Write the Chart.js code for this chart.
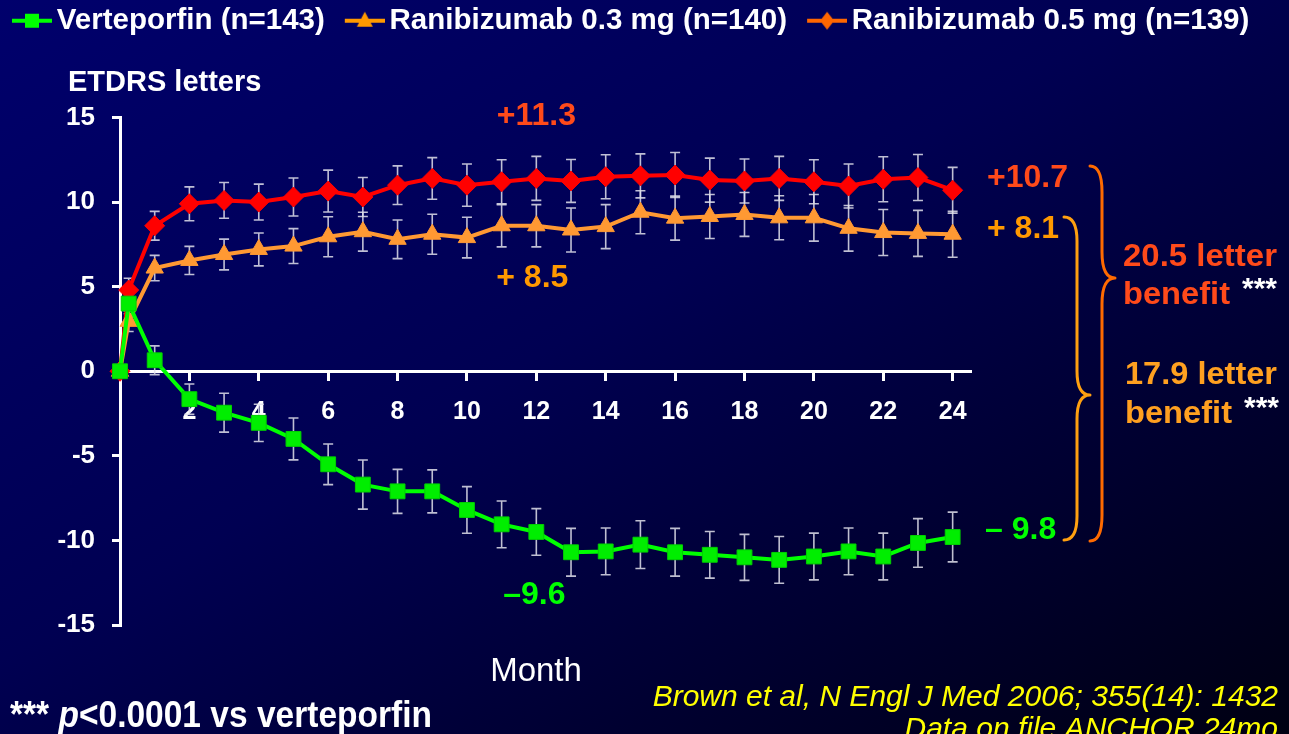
<!DOCTYPE html>
<html><head><meta charset="utf-8">
<script src="https://cdn.jsdelivr.net/npm/chart.js@4.4.1/dist/chart.umd.min.js"></script>
<style>
html,body{margin:0;padding:0;width:1289px;height:734px;overflow:hidden;
background:linear-gradient(to bottom right,#00006c 0%,#000052 45%,#000012 100%);}
canvas{display:block}
</style></head><body>
<canvas id="c" width="1289" height="734"></canvas>
<script>
// ---------- data ----------
const months = [0,0.25,1,2,3,4,5,6,7,8,9,10,11,12,13,14,15,16,17,18,19,20,21,22,23,24];
const verteporfin    = [0,4.0,0.65,-1.65,-2.45,-3.05,-4.0,-5.5,-6.7,-7.1,-7.1,-8.2,-9.05,-9.5,-10.7,-10.65,-10.25,-10.7,-10.85,-11.0,-11.15,-10.95,-10.65,-10.95,-10.15,-9.8];
const verteporfinErr = [0,0.6,0.85,0.9,1.15,1.1,1.24,1.2,1.45,1.3,1.27,1.38,1.38,1.38,1.41,1.38,1.41,1.41,1.38,1.36,1.38,1.38,1.38,1.38,1.44,1.47];
const rani03    = [0,2.95,6.1,6.55,6.9,7.2,7.4,7.95,8.25,7.8,8.1,7.9,8.6,8.6,8.35,8.55,9.4,9.05,9.15,9.27,9.07,9.07,8.45,8.2,8.15,8.1];
const rani03Err = [0,0.6,0.75,0.83,0.91,0.97,1.03,1.18,1.15,1.14,1.18,1.2,1.25,1.25,1.3,1.3,1.27,1.3,1.3,1.3,1.3,1.38,1.35,1.36,1.36,1.36];
const rani05    = [0,4.8,8.6,9.9,10.1,10.0,10.3,10.65,10.3,11.0,11.4,11.0,11.2,11.4,11.25,11.5,11.55,11.6,11.3,11.25,11.4,11.2,10.95,11.35,11.45,10.7];
const rani05Err = [0,0.7,0.85,1.0,1.06,1.06,1.12,1.24,1.15,1.14,1.23,1.25,1.3,1.3,1.27,1.3,1.3,1.33,1.3,1.3,1.3,1.3,1.3,1.33,1.36,1.35];
const seriesNames = ['Verteporfin (n=143)','Ranibizumab 0.3 mg (n=140)','Ranibizumab 0.5 mg (n=139)'];
const xTicks = [2,4,6,8,10,12,14,16,18,20,22,24];
const yTicks = [-15,-10,-5,0,5,10,15];

// ---------- styling ----------
const F = '"Liberation Sans", Arial, Helvetica, sans-serif';
Chart.defaults.font.family = F;
const GREEN = '#00ff00', ORANGE = '#ff9933', RED = '#ff0000', REDLEG = '#ff6600';
const ORTXT = '#ff9900', REDTXT = '#ff4a1a';

function makeIcon(kind, color) {
  const c = document.createElement('canvas');
  c.width = 64; c.height = 28;
  const g = c.getContext('2d');
  g.strokeStyle = color; g.fillStyle = color; g.lineWidth = 4;
  g.beginPath(); g.moveTo(24, 14); g.lineTo(64, 14); g.stroke();
  const cx = 44, cy = 14;
  g.beginPath();
  if (kind === 'rect') { g.rect(cx - 7, cy - 7, 14, 14); }
  else if (kind === 'tri') { g.moveTo(cx, cy - 9); g.lineTo(cx + 8, cy + 6); g.lineTo(cx - 8, cy + 6); g.closePath(); }
  else { g.moveTo(cx, cy - 9); g.lineTo(cx + 7, cy); g.lineTo(cx, cy + 9); g.lineTo(cx - 7, cy); g.closePath(); }
  g.fill();
  return c;
}
const icons = [makeIcon('rect', GREEN), makeIcon('tri', ORTXT), makeIcon('dia', REDLEG)];
const legendColors = [GREEN, ORTXT, REDLEG];

const toXY = arr => months.map((m, i) => ({x: m, y: arr[i]}));

// ---------- plugins ----------
const errorBars = {
  id: 'errorBars',
  beforeDatasetsDraw(chart) {
    const {ctx, scales: {x, y}} = chart;
    ctx.save();
    ctx.strokeStyle = 'rgba(225,225,235,0.85)';
    ctx.lineWidth = 1.6;
    chart.data.datasets.forEach(ds => {
      ds.errors.forEach((e, j) => {
        if (!e) return;
        const v = ds.data[j].y;
        const px = x.getPixelForValue(ds.data[j].x);
        const t = y.getPixelForValue(v + e), b = y.getPixelForValue(v - e);
        ctx.beginPath();
        ctx.moveTo(px, t); ctx.lineTo(px, b);
        ctx.moveTo(px - 5, t); ctx.lineTo(px + 5, t);
        ctx.moveTo(px - 5, b); ctx.lineTo(px + 5, b);
        ctx.stroke();
      });
    });
    ctx.restore();
  }
};

function txt(ctx, s, px, py, font, color, align, base, targetW) {
  ctx.save();
  ctx.font = font; ctx.fillStyle = color;
  ctx.textAlign = align || 'left'; ctx.textBaseline = base || 'middle';
  if (targetW) {
    const k = targetW / ctx.measureText(s).width;
    ctx.translate(px, py); ctx.scale(k, 1); ctx.fillText(s, 0, 0);
  } else ctx.fillText(s, px, py);
  ctx.restore();
}
function segs(ctx, parts, px, py, targetW) {
  ctx.save();
  ctx.textAlign = 'left'; ctx.textBaseline = 'alphabetic';
  let total = 0;
  parts.forEach(p => { ctx.font = p.font; total += ctx.measureText(p.t).width; });
  const k = targetW ? targetW / total : 1;
  ctx.translate(px, py); ctx.scale(k, 1);
  let cx = 0;
  parts.forEach(p => { ctx.font = p.font; ctx.fillStyle = p.c; ctx.fillText(p.t, cx, 0); cx += ctx.measureText(p.t).width; });
  ctx.restore();
}
function brace(ctx, xEnd, xSpine, xTip, yTop, yMid, yBot, r, color) {
  ctx.save();
  ctx.strokeStyle = color; ctx.lineWidth = 3; ctx.lineCap = 'round'; ctx.lineJoin = 'round';
  ctx.beginPath();
  ctx.moveTo(xEnd, yTop);
  ctx.quadraticCurveTo(xSpine, yTop, xSpine, yTop + r);
  ctx.lineTo(xSpine, yMid - r);
  ctx.quadraticCurveTo(xSpine, yMid, xTip, yMid);
  ctx.quadraticCurveTo(xSpine, yMid, xSpine, yMid + r);
  ctx.lineTo(xSpine, yBot - r);
  ctx.quadraticCurveTo(xSpine, yBot, xEnd, yBot);
  ctx.stroke();
  ctx.restore();
}

const annotations = {
  id: 'annotations',
  afterDraw(chart) {
    const {ctx, scales: {x, y}} = chart;
    const B = s => 'bold ' + s + 'px ' + F;
    txt(ctx, 'ETDRS letters', 68, 83, B(29), '#fff');
    // in-plot callouts
    txt(ctx, '+11.3', x.getPixelForValue(12), y.getPixelForValue(15.05), B(32), REDTXT, 'center');
    txt(ctx, '+ 8.5', x.getPixelForValue(12) - 4, y.getPixelForValue(5.5), B(32), ORTXT, 'center');
    txt(ctx, '\u20139.6', x.getPixelForValue(12) - 2, y.getPixelForValue(-13.25), B(32), GREEN, 'center');
    // end values
    txt(ctx, '+10.7', 987, 178, B(32), REDTXT);
    txt(ctx, '+ 8.1', 987, 229, B(32), ORTXT);
    txt(ctx, '\u2013 9.8', 985, 530, B(32), GREEN);
    // braces
    brace(ctx, 1090, 1102, 1115, 166, 278, 541, 26, '#ff6a00');
    brace(ctx, 1064, 1077, 1090, 217, 395, 540, 24, '#ffa010');
    // benefit texts
    txt(ctx, '20.5 letter', 1123, 257, B(31), REDTXT, 'left', 'middle', 154);
    txt(ctx, 'benefit', 1123, 295, B(31), REDTXT, 'left', 'middle', 107);
    txt(ctx, '***', 1242, 290, B(30), '#fff');
    txt(ctx, '17.9 letter', 1125, 375, B(31), '#ffa020', 'left', 'middle', 152);
    txt(ctx, 'benefit', 1125, 414, B(31), '#ffa020', 'left', 'middle', 107);
    txt(ctx, '***', 1244, 409, B(30), '#fff');
    // axis title
    txt(ctx, 'Month', 536, 672, '33px ' + F, '#fff', 'center');
    // footnotes
    segs(ctx, [
      {t: '*** ', font: B(36), c: '#fff'},
      {t: 'p', font: 'italic bold 36px ' + F, c: '#fff'},
      {t: '<0.0001 vs verteporfin', font: B(36), c: '#fff'}
    ], 10, 727, 422);
    txt(ctx, 'Brown et al, N Engl J Med 2006; 355(14): 1432', 1278, 706, 'italic 30px ' + F, '#ffff00', 'right', 'alphabetic');
    txt(ctx, 'Data on file ANCHOR 24mo', 1278, 738, 'italic 30px ' + F, '#ffff00', 'right', 'alphabetic');
  }
};

// ---------- chart ----------
const gridOpts = {drawOnChartArea: false, drawTicks: true, tickLength: 8, color: '#ffffff', lineWidth: 3};
const borderOpts = {display: true, color: '#ffffff', width: 3};

new Chart(document.getElementById('c'), {
  type: 'line',
  data: {
    datasets: [
      {label: seriesNames[0], data: toXY(verteporfin), errors: verteporfinErr,
       borderColor: GREEN, backgroundColor: '#00ee00', borderWidth: 4,
       pointStyle: 'rect', pointRadius: 10.5, pointBackgroundColor: '#00ee00', pointBorderColor: '#00d000', pointBorderWidth: 1, clip: false},
      {label: seriesNames[1], data: toXY(rani03), errors: rani03Err,
       borderColor: ORANGE, backgroundColor: ORANGE, borderWidth: 4,
       pointStyle: 'triangle', pointRadius: 10, pointBackgroundColor: ORANGE, pointBorderColor: ORANGE, pointBorderWidth: 1, clip: false},
      {label: seriesNames[2], data: toXY(rani05), errors: rani05Err,
       borderColor: RED, backgroundColor: RED, borderWidth: 4,
       pointStyle: 'rectRot', pointRadius: 10, pointBackgroundColor: RED, pointBorderColor: RED, pointBorderWidth: 1, clip: false}
    ]
  },
  options: {
    responsive: false,
    animation: false,
    layout: {padding: {top: 0, left: -8, right: 0, bottom: 109}},
    plugins: {
      legend: {
        position: 'top', align: 'start', weight: 1000,
        labels: {
          usePointStyle: true, pointStyleWidth: 44, padding: 6, color: '#fff',
          font: {size: 29.5, weight: 'bold', family: F},
          generateLabels: () => seriesNames.map((n, i) => ({
            text: n, pointStyle: icons[i], fillStyle: legendColors[i], strokeStyle: legendColors[i],
            lineWidth: 0, fontColor: '#fff', hidden: false, datasetIndex: i
          }))
        }
      },
      title: {display: true, text: '', weight: 500, font: {size: 10, lineHeight: 1}, padding: {top: 0, bottom: 62}},
      tooltip: {enabled: false}
    },
    scales: {
      x: {
        type: 'linear', min: 0, max: 24.5, position: {y: 0},
        afterBuildTicks: s => { s.ticks = xTicks.map(v => ({value: v})); },
        grid: gridOpts, border: borderOpts,
        ticks: {color: '#fff', font: {size: 25, weight: 'bold'}, padding: 18, maxRotation: 0, autoSkip: false,
                callback: v => String(v)}
      },
      y: {
        type: 'linear', min: -15, max: 15, position: 'left',
        afterBuildTicks: s => { s.ticks = yTicks.map(v => ({value: v})); },
        afterFit: s => { s.width = 128; },
        grid: gridOpts, border: borderOpts,
        ticks: {color: '#fff', font: {size: 26, weight: 'bold'}, padding: 17, autoSkip: false,
                callback: v => String(v)}
      },
      rightSpace: {
        type: 'linear', position: 'right', min: 0, max: 1,
        afterFit: s => { s.width = 319; },
        grid: {display: false}, border: {display: false}, ticks: {display: false}
      }
    }
  },
  plugins: [errorBars, annotations]
});
</script>
</body></html>
